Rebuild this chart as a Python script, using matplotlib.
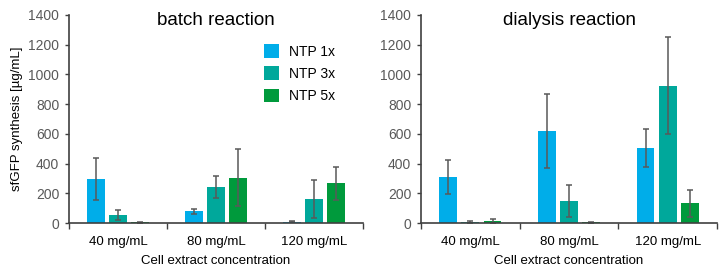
"""Recreate the sfGFP batch vs dialysis bar chart."""

import matplotlib
matplotlib.use("Agg")
import matplotlib.pyplot as plt
import numpy as np

plt.rcParams["font.family"] = ["Liberation Sans", "DejaVu Sans"]

concentrations = ["40 mg/mL", "80 mg/mL", "120 mg/mL"]
series_names = ["NTP 1x", "NTP 3x", "NTP 5x"]
series_colors = ["#00ADE9", "#00A89B", "#009A3C"]

batch_means = [
    [295, 80, 10],    # NTP 1x
    [55, 243, 160],   # NTP 3x
    [4, 305, 268],    # NTP 5x
]
batch_errors = [
    [140, 17, 5],
    [33, 75, 128],
    [3, 192, 110],
]

dialysis_means = [
    [310, 617, 505],
    [8, 148, 925],
    [12, 5, 133],
]
dialysis_errors = [
    [112, 250, 130],
    [8, 108, 325],
    [12, 5, 92],
]

panels = [
    ("batch reaction", batch_means, batch_errors),
    ("dialysis reaction", dialysis_means, dialysis_errors),
]

TEXT_GRAY = "#595959"
AXIS_GRAY = "#404040"

figure = plt.figure(figsize=(7.24, 2.72), dpi=100)
axes_list = [
    figure.add_axes([0.0953, 0.180, 0.406, 0.765]),
    figure.add_axes([0.5815, 0.180, 0.409, 0.765]),
]

positions = np.arange(len(concentrations)) + 0.5
bar_width = 0.18
offset = 0.225

for axis, (title, means, errors) in zip(axes_list, panels):
    for index, (name, color) in enumerate(zip(series_names, series_colors)):
        axis.bar(
            positions + (index - 1) * offset, means[index], bar_width,
            yerr=errors[index], color=color, label=name,
            error_kw=dict(ecolor=TEXT_GRAY, elinewidth=1.1, capsize=2,
                          capthick=1.1))
    axis.set_xlim(0, len(concentrations))
    axis.set_ylim(0, 1400)
    axis.set_yticks(np.arange(0, 1401, 200))
    axis.set_xticks(positions)
    axis.set_xticklabels(concentrations, fontsize=9.5, color="black")
    axis.set_xticks(np.arange(len(concentrations) + 1), minor=True)
    axis.tick_params(axis="x", which="major", length=0, pad=9)
    axis.tick_params(axis="x", which="minor", length=4, width=1,
                     color=AXIS_GRAY, direction="out")
    axis.tick_params(axis="y", length=3, width=1, color=AXIS_GRAY,
                     labelsize=10, labelcolor=TEXT_GRAY, pad=4)
    for side in ("top", "right"):
        axis.spines[side].set_visible(False)
    for side in ("left", "bottom"):
        axis.spines[side].set_color(AXIS_GRAY)
        axis.spines[side].set_linewidth(1.2)
    axis.set_xlabel("Cell extract concentration", fontsize=9.5, labelpad=5.5)
    axis.text(0.5, 0.952, title, transform=axis.transAxes, fontsize=13.5,
              ha="center", va="baseline")

axes_list[0].set_ylabel("sfGFP synthesis [µg/mL]", fontsize=9.5, labelpad=4)
axes_list[0].legend(
    loc="upper left", bbox_to_anchor=(0.645, 0.885), frameon=False,
    fontsize=10, handlelength=1.1, handleheight=1.1, labelspacing=0.55,
    handletextpad=0.7, borderaxespad=0)

figure.savefig("out.png", dpi=100)
